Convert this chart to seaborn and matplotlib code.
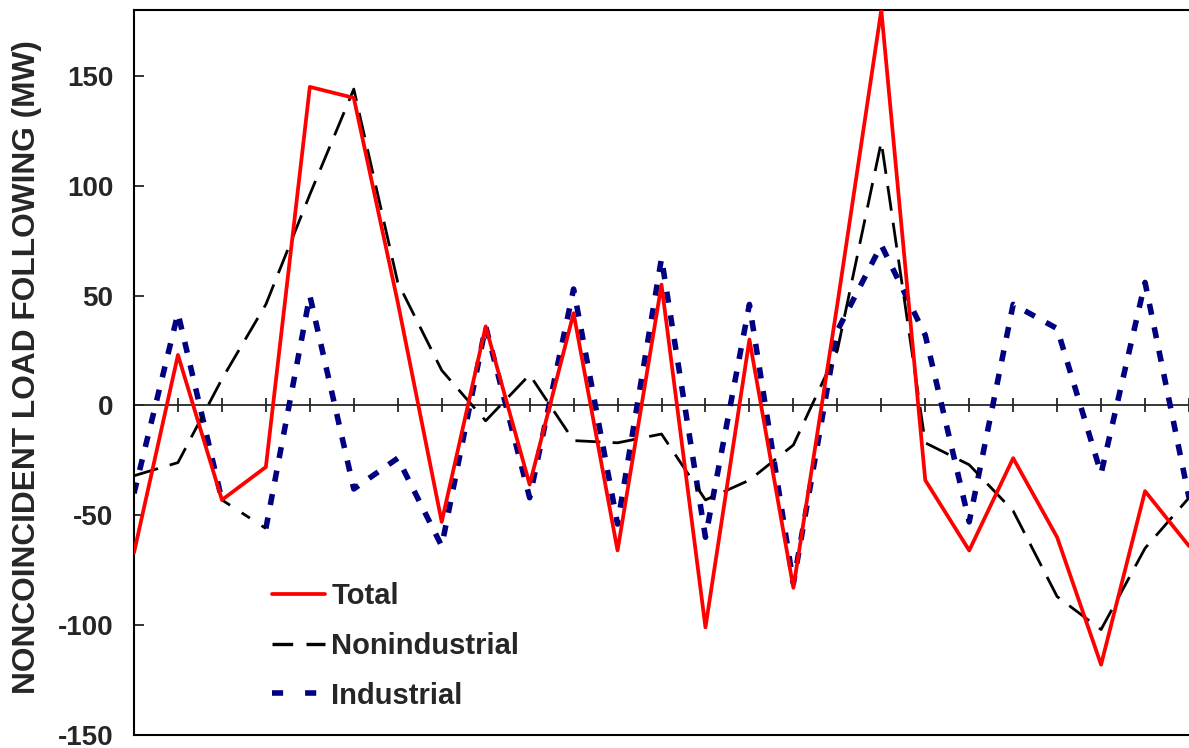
import matplotlib
matplotlib.use("Agg")
import matplotlib.pyplot as plt
from matplotlib.lines import Line2D
import seaborn as sns
import pandas as pd

# Noncoincident load-following by period (MW)
periods = list(range(25))
total = [-67, 23, -43, -28, 145, 140, 47, -53, 36, -36, 42, -66, 55, -101,
         30, -83, 46, 180, -34, -66, -24, -60, -118, -39, -64]
nonindustrial = [-32, -26, 12, 46, 96, 144, 56, 16, -7, 14, -16, -17, -13, -43,
                 -34, -18, 25, 120, -17, -27, -48, -87, -102, -65, -42]
industrial = [-40, 42, -43, -56, 50, -38, -24, -64, 36, -42, 53, -54, 67, -60,
              46, -81, 34, 73, 32, -53, 46, 35, -31, 56, -42]
series_names = ["Total", "Nonindustrial", "Industrial"]
y_ticks = [-150, -100, -50, 0, 50, 100, 150]
y_label = "NONCOINCIDENT LOAD FOLLOWING (MW)"

df = pd.DataFrame({"period": periods, "Total": total,
                   "Nonindustrial": nonindustrial, "Industrial": industrial})

sns.set_style("white")
plt.rcParams["font.family"] = ["Liberation Sans", "DejaVu Sans"]
plt.rcParams["font.weight"] = "bold"
plt.rcParams["axes.unicode_minus"] = False

fig = plt.figure(figsize=(11.89, 7.48), dpi=100)
ax = fig.add_axes([134 / 1189, 13 / 748, 1 - 134 / 1189, 725 / 748])

RED, NAVY = "#FF0000", "#000080"
nonind_style = (0, (9.0, 4.4))
ind_style = (0, (2.0, 2.3))

# industrial series: the period 2-3 step is drawn in black short dashes
ind_a = df.iloc[0:3]
ind_b = df.iloc[3:]
ind_link = df.iloc[2:4]
sns.lineplot(data=ind_a, x="period", y="Industrial", color=NAVY, lw=4,
             linestyle=ind_style, dash_capstyle="butt", ax=ax, zorder=2)
sns.lineplot(data=ind_b, x="period", y="Industrial", color=NAVY, lw=4,
             linestyle=ind_style, dash_capstyle="butt", ax=ax, zorder=2)
sns.lineplot(data=ind_link, x="period", y="Industrial", color="black", lw=2,
             linestyle=(0, (3.5, 5)), dash_capstyle="butt", ax=ax, zorder=2)
sns.lineplot(data=df, x="period", y="Nonindustrial", color="black", lw=2.0,
             linestyle=nonind_style, dash_capstyle="butt", ax=ax, zorder=3)
sns.lineplot(data=df, x="period", y="Total", color=RED, lw=2.7, ax=ax,
             zorder=4)

ax.set_xlim(0, 24)
ax.set_ylim(-150, 180)
ax.set_yticks(y_ticks)
ax.set_xticks([])
ax.set_xlabel("")
ax.set_ylabel(y_label, fontsize=22.8, fontweight="bold")
ax.yaxis.set_label_coords(-0.087, 0.507)
ax.tick_params(axis="y", direction="in", length=7, width=1.3, pad=15,
               labelsize=20, left=True)
for lab in ax.get_yticklabels():
    lab.set_fontweight("bold")
for side in ["left", "bottom", "top"]:
    ax.spines[side].set_visible(True)
    ax.spines[side].set_color("black")
    ax.spines[side].set_linewidth(1.5)
ax.spines["right"].set_visible(False)

# zero axis with a tick at every period
zero_frac = (0 - (-150)) / (180 - (-150))
secax = ax.secondary_xaxis(zero_frac)
secax.set_xticks(periods)
secax.tick_params(direction="inout", length=10, width=1.3,
                  labelbottom=False, labeltop=False)
secax.spines["bottom"].set_linewidth(1.3)
secax.spines["top"].set_linewidth(1.3)

handles = [
    Line2D([], [], color=RED, lw=2.7),
    Line2D([], [], color="black", lw=2.4, linestyle=(0, (6.2, 4.0)),
           dash_capstyle="butt"),
    Line2D([], [], color=NAVY, lw=4, linestyle=(0, (2.0, 3.96)),
           dash_capstyle="butt"),
]
ax.legend(handles, series_names, loc="upper left",
          bbox_to_anchor=(0.1308, 0.2108), frameon=False,
          prop={"family": "Liberation Sans", "weight": "bold", "size": 21},
          handlelength=1.83, handletextpad=0.2, labelspacing=0.745,
          borderpad=0, borderaxespad=0)

fig.savefig("out.png", dpi=100)
